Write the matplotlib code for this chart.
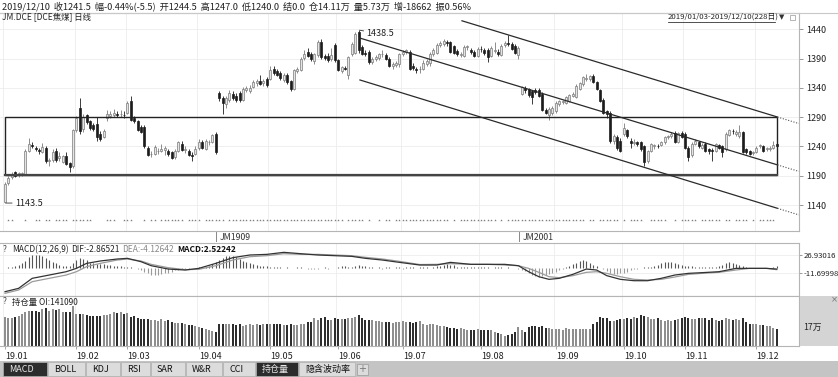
import matplotlib
matplotlib.use('Agg')
import matplotlib.pyplot as plt
from matplotlib.patches import Rectangle

plt.rcParams['font.family'] = ['Noto Sans CJK SC', 'DejaVu Sans']

W, H = 838, 377

# ---------------- data ----------------
opens = [1146,1178,1188,1196,1191,1192,1193,1233,1243,1238,
         1234,1231,1237,1216,1217,1233,1221,1213,1224,1211,
         1206,1268,1306,1270,1293,1283,1276,1278,1262,1256,
         1288,1292,1294,1296,1295,1294,1297,1317,1288,1283,
         1274,1274,1237,1227,1227,1232,1233,1234,1232,1230,
         1222,1233,1245,1234,1233,1226,1227,1237,1248,1236,
         1247,1248,1262,
         1332,1322,1312,1319,1330,1326,1332,1319,1337,1334,
         1342,1349,1352,1348,1355,1356,1373,1368,1365,1354,
         1362,1351,1338,1368,1370,1391,1402,1398,1386,1396,
         1418,1394,1395,1390,1413,1387,1368,1374,1362,1398,
         1400,1436,1410,1400,1402,1385,1390,1391,1397,1396,
         1390,1378,1379,1380,1398,1402,1402,1378,1372,1372,
         1373,1380,1382,1398,1400,1413,1415,1418,1418,1412,
         1403,1396,1395,1410,1405,1402,1395,1407,1404,1405,
         1395,1403,1402,1396,1413,1416,1415,1412,1396,
         1330,1340,1338,1335,1336,1337,1330,1303,1293,1297,
         1300,1312,1316,1314,1318,1327,1325,1338,1347,1356,
         1355,1360,1350,1336,1320,1300,1298,1250,1256,1250,
         1262,1268,1250,1246,1247,1248,1240,1216,1232,1240,
         1241,1242,1247,1256,1258,1263,1248,1263,1262,1238,
         1225,1245,1248,1237,1245,1236,1234,1232,1243,1240,
         1235,1260,1267,1262,1258,1264,1235,1232,1229,1231,
         1240,1240,1236,1235,1238,1244.5]
highs = [1180,1190,1197,1199,1197,1197,1236,1255,1247,1241,
         1237,1246,1241,1220,1236,1237,1230,1226,1230,1214,
         1270,1292,1323,1295,1296,1286,1280,1290,1266,1270,
         1303,1300,1304,1300,1303,1300,1318,1326,1292,1286,
         1277,1276,1240,1232,1242,1238,1245,1240,1235,1233,
         1236,1250,1250,1240,1236,1230,1240,1252,1251,1252,
         1251,1262,1264,
         1335,1326,1326,1336,1334,1331,1334,1342,1344,1345,
         1354,1355,1362,1356,1358,1378,1378,1372,1368,1366,
         1365,1354,1372,1376,1392,1405,1408,1402,1400,1421,
         1423,1398,1399,1408,1416,1390,1378,1378,1395,1418,
         1436,1438.5,1414,1404,1405,1393,1396,1400,1404,1399,
         1392,1385,1386,1400,1405,1406,1404,1382,1376,1377,
         1388,1390,1402,1408,1416,1420,1423,1421,1420,1414,
         1406,1402,1413,1414,1408,1404,1410,1412,1408,1408,
         1412,1418,1406,1415,1420,1431,1418,1415,1412,
         1343,1343,1340,1337,1339,1339,1333,1306,1308,1309,
         1317,1320,1320,1326,1330,1333,1346,1350,1360,1364,
         1362,1363,1352,1338,1322,1302,1300,1262,1260,1254,
         1280,1270,1254,1252,1250,1250,1242,1234,1246,1245,
         1244,1250,1258,1260,1265,1266,1265,1266,1264,1240,
         1247,1252,1250,1246,1247,1238,1237,1246,1245,1242,
         1264,1270,1270,1268,1276,1266,1237,1234,1233,1240,
         1245,1242,1239,1241,1250,1247]
lows = [1143.5,1175,1185,1188,1188,1189,1192,1230,1238,1233,
        1228,1229,1212,1207,1214,1214,1216,1211,1208,1197,
        1204,1265,1262,1265,1278,1268,1266,1250,1250,1254,
        1284,1288,1290,1290,1291,1288,1295,1283,1280,1266,
        1263,1238,1223,1222,1225,1228,1230,1226,1224,1218,
        1219,1231,1232,1229,1224,1216,1225,1234,1235,1234,
        1243,1246,1228,
        1318,1296,1305,1316,1320,1316,1316,1317,1333,1331,
        1340,1344,1345,1344,1342,1354,1362,1360,1354,1350,
        1347,1335,1336,1365,1368,1388,1392,1386,1380,1392,
        1390,1388,1385,1386,1385,1368,1366,1370,1355,1395,
        1398,1400,1396,1394,1380,1380,1386,1388,1392,1387,
        1376,1372,1376,1376,1395,1398,1370,1370,1366,1366,
        1370,1378,1378,1395,1397,1410,1412,1412,1400,1398,
        1394,1392,1393,1405,1398,1393,1393,1402,1396,1384,
        1393,1400,1395,1394,1410,1412,1404,1398,1390,
        1328,1332,1325,1313,1330,1324,1300,1295,1285,1294,
        1297,1309,1313,1312,1316,1324,1322,1336,1344,1352,
        1352,1348,1336,1316,1296,1288,1246,1244,1234,1230,
        1258,1255,1238,1242,1240,1233,1207,1212,1230,1236,
        1237,1240,1245,1252,1255,1246,1246,1254,1235,1215,
        1222,1242,1238,1235,1230,1228,1215,1230,1235,1222,
        1233,1258,1262,1258,1255,1229,1227,1226,1226,1229,
        1237,1231,1233,1233,1236,1240]
closes = [1176,1186,1193,1190,1194,1195,1233,1244,1240,1236,
          1232,1239,1215,1217,1231,1217,1223,1223,1210,1205,
          1268,1289,1266,1290,1281,1271,1270,1257,1253,1266,
          1295,1295,1297,1294,1295,1293,1314,1285,1283,1268,
          1265,1240,1225,1228,1239,1233,1236,1237,1227,1221,
          1233,1247,1234,1236,1226,1224,1235,1248,1238,1249,
          1248,1260,1230,
          1322,1314,1322,1332,1323,1320,1319,1338,1339,1340,
          1350,1351,1346,1352,1345,1370,1365,1362,1357,1362,
          1350,1338,1370,1373,1390,1397,1394,1390,1397,1418,
          1393,1391,1388,1396,1387,1370,1375,1373,1392,1415,
          1432,1405,1398,1398,1385,1390,1392,1397,1398,1389,
          1377,1380,1383,1397,1402,1404,1373,1374,1370,1373,
          1382,1386,1398,1404,1413,1416,1420,1417,1402,1400,
          1397,1398,1410,1411,1401,1395,1407,1406,1400,1393,
          1408,1405,1398,1412,1417,1415,1407,1400,1408,
          1341,1336,1328,1325,1333,1326,1302,1298,1304,1306,
          1314,1318,1318,1324,1328,1330,1344,1348,1358,1357,
          1360,1350,1338,1318,1298,1296,1250,1258,1237,1233,
          1271,1258,1246,1248,1244,1235,1214,1232,1244,1242,
          1240,1248,1256,1258,1262,1248,1263,1257,1237,1222,
          1245,1250,1240,1243,1232,1232,1232,1244,1237,1230,
          1262,1268,1266,1265,1264,1231,1230,1228,1230,1238,
          1242,1233,1236,1238,1242,1241.5]

# open interest, in 万
oi = [23.8,23.5,23.5,23.8,24.9,26.3,27.9,29.1,29.3,29.1,
      27.9,30.7,31.8,29.3,30.4,30.2,30.7,27.9,28.2,28.2,
      33.5,26.6,26.6,26.3,25.7,24.9,25.2,25.2,25.2,25.5,
      25.7,26.6,27.9,27.4,28.5,26.3,27.4,24.1,25.2,23.5,
      22.4,22.4,22.1,21.9,21.6,20.8,22.1,20.8,21.3,19.6,
      19.1,19.4,18.8,18.5,17.4,17.4,16.3,15.8,14.7,13.8,
      13.3,12.7,11.9,18.0,18.5,18.0,18.5,18.0,17.4,18.0,
      16.9,17.4,18.0,17.4,18.0,17.4,18.0,18.5,18.0,18.0,
      18.5,18.3,17.4,17.4,18.0,17.7,17.4,18.3,18.0,19.6,
      19.6,23.0,21.3,23.5,24.4,21.3,21.6,23.0,22.4,22.4,
      22.7,23.0,23.0,24.4,25.7,23.0,21.9,21.3,21.3,20.8,
      20.8,19.6,20.2,19.6,19.1,19.6,19.6,20.8,20.2,19.6,
      19.1,20.2,20.8,18.0,17.4,18.0,18.0,17.4,16.9,16.9,
      16.1,15.2,14.7,14.1,14.7,14.1,13.3,13.3,13.3,13.8,
      13.3,13.3,13.0,13.0,11.9,10.8,10.2,8.6,9.1,10.0,
      11.9,16.1,13.0,11.9,16.1,16.9,16.9,16.1,16.6,14.7,
      14.7,13.8,13.8,13.8,13.3,14.7,13.8,14.1,14.1,14.1,
      14.1,14.1,14.1,18.0,19.6,24.4,23.5,23.0,20.8,20.8,
      21.9,22.4,22.4,23.0,22.4,24.4,23.5,25.7,24.9,24.4,
      22.4,22.4,23.0,21.9,20.8,21.3,20.8,21.6,22.4,23.5,
      24.4,23.5,22.4,22.1,23.0,23.0,23.0,21.6,23.0,21.3,
      20.8,21.3,23.0,22.1,21.6,22.4,21.3,23.0,20.2,18.0,
      18.0,18.0,17.4,17.4,16.9,16.3,15.2,14.109]

# MACD histogram (per bar)
macd_hist = [-1,1,2,4,6,10,14,22,26,27,
             26,24,20,16,12,9,6,4,3,4,
             10,16,20,18,15,10,9,8,8,7,
             6,5,4,3,3,2,2,1,0,-2,
             -4,-8,-12,-15,-16,-15,-14,-12,-10,-8,
             -5,-4,-3,-3,-2,-1,0,1,-1,1,
             4,8,12,16,20,24,25,24,22,18,
             14,11,9,7,5,4,3,3,2,2,
             2,1,-1,1,0,-1,1,2,-1,-2,
             -2,-3,-2,-1,1,-2,-1,-1,2,3,
             3,2,2,4,5,4,3,2,1,-1,
             2,-2,1,2,-1,2,1,-2,2,1,
             2,-1,2,1,2,-1,2,3,4,6,
             7,6,5,2,1,1,1,1,1,1,
             1,1,1,0,1,1,1,0,1,0,
             0,-2,-4,-6,-10,-15,-18,-20,-18,-16,
             -14,-12,-8,-5,-2,1,4,7,10,13,
             15,14,10,6,3,-1,-2,-6,-10,-13,
             -14,-12,-10,-8,-5,-3,-2,-1,1,1,
             2,4,6,9,11,12,11,9,7,5,
             4,3,3,2,2,2,2,1,2,2,
             3,6,9,11,10,8,5,3,1,0,
             0,0,0,0,0,-1,1,2.52242]

# MACD lines (sampled along the bar index)
macd_idx = [0,4,8,13,18,21,24,28,33,36,40,43,48,53,57,62,67,72,77,82,87,92,97,102,
            106,111,116,122,127,131,137,142,147,151,154,157,160,163,167,171,174,177,
            181,185,189,193,197,201,205,210,215,219,224,227]
dif = [-49.6,-42.7,-22.0,-15.2,-8.3,-1.4,8.9,13.8,17.9,19.3,12.4,4.1,-2.8,-4.8,-1.4,
       8.9,20.7,26.2,27.5,31.7,28.9,26.2,24.8,23.4,19.3,15.8,11.0,5.5,5.5,11.0,6.9,
       6.9,6.9,4.1,-8.3,-18.6,-24.1,-22.0,-13.8,-2.8,-4.8,-16.5,-24.1,-26.9,-26.9,
       -22.0,-15.2,-11.7,-10.3,-8.3,-1.4,-1.4,-1.4,-2.87]
dea = [-53.0,-46.1,-28.9,-22.0,-15.2,-8.3,2.1,8.9,15.8,17.9,13.8,6.9,0.0,-4.1,-3.4,
       4.1,15.8,22.7,24.8,28.9,27.5,27.5,26.2,24.8,21.4,17.9,13.1,6.5,6.9,8.3,6.9,
       6.9,5.5,4.1,-1.4,-9.6,-18.6,-20.7,-16.5,-9.6,-8.3,-11.7,-18.6,-24.1,-25.5,
       -24.1,-19.3,-13.8,-11.7,-9.6,-4.8,-1.4,-1.4,-4.13]

month_starts = [0, 21, 36, 57, 78, 98, 117, 140, 162, 182, 200, 221]
month_labels = ['19.01','19.02','19.03','19.04','19.05','19.06',
                '19.07','19.08','19.09','19.10','19.11','19.12']
price_ticks = [1140, 1190, 1240, 1290, 1340, 1390, 1440]
contracts = [('JM1909', 63), ('JM2001', 152)]

# channel lines: (start idx, start price, end idx, end price)
channel_lines = [(134.4, 1454.5, 227.2, 1290.3),
                 (104.4, 1425.0, 227.2, 1208.6),
                 (104.4, 1353.5, 227.2, 1134.5)]
channel_ext_end = 233.5
box = (0, 1191.5, 227, 1290.3)   # x0, y0, x1, y1

marker_runs = [(1,2),(6,6),(9,10),(12,13),(15,18),(20,25),(30,32),(35,37),(41,41),
               (43,44),(46,52),(54,57),(59,64),(66,99),(101,105),(107,107),(110,110),
               (112,113),(115,118),(119,130),(132,132),(134,144),(146,146),(148,170),
               (172,173),(175,180),(182,182),(184,187),(190,194),(197,197),(199,203),
               (205,210),(212,213),(215,218),(220,220),(222,226)]

# ---------------- figure ----------------
fig = plt.figure(figsize=(W/100, H/100), dpi=100)
fig.patch.set_facecolor('white')

def rect(x0, y0, x1, y1):
    return [x0/W, 1-y1/H, (x1-x0)/W, (y1-y0)/H]

XL = (-1.47, 233.53)
GRID = '#ececec'
SP = '#b5b5b5'
n = len(closes)
idx = list(range(n))

ax = fig.add_axes(rect(0, 13, 799, 231))
ax_m = fig.add_axes(rect(0, 243, 799, 296))
ax_o = fig.add_axes(rect(0, 296, 799, 346))

for a in (ax, ax_m, ax_o):
    a.set_xlim(*XL)
    a.spines['left'].set_visible(False)
    for s in ('top', 'right', 'bottom'):
        a.spines[s].set_color(SP)
        a.spines[s].set_linewidth(0.8)
    a.yaxis.tick_right()
    a.tick_params(axis='y', labelsize=6.5, length=3, width=0.6, color='#888888',
                  labelcolor='#222222', pad=2)
    for m in month_starts:
        a.axvline(m - 0.5, color=GRID, lw=0.6, zorder=0)

# ---- price panel ----
ax.set_ylim(1095.8, 1467.8)
ax.set_yticks(price_ticks)
ax.set_xticks([])
for p in price_ticks:
    ax.axhline(p, color=GRID, lw=0.6, zorder=0)

up_face, up_edge, dn_col = '#e4e4e4', '#7a7a7a', '#1c1c1c'
for i in idx:
    o, h, l, c = opens[i], highs[i], lows[i], closes[i]
    up = c >= o
    col = up_edge if up else dn_col
    ax.vlines(i, l, h, color=col, lw=0.6, zorder=2)
    body_lo = min(o, c)
    body_h = max(abs(c - o), 0.8)
    ax.bar(i, body_h, bottom=body_lo, width=0.64,
           color=(up_face if up else dn_col), edgecolor=col, linewidth=0.5, zorder=3)

# rectangle box
bx0, by0, bx1, by1 = box
ax.add_patch(Rectangle((bx0, by0), bx1 - bx0, by1 - by0, fill=False,
                       edgecolor='#222222', lw=1.0, zorder=4))
ax.plot([bx0, bx1], [by0, by0], color='#444444', lw=1.6, zorder=4)

# channel lines
for (x0, y0, x1, y1) in channel_lines:
    ax.plot([x0, x1], [y0, y1], color='#2a2a2a', lw=0.9, zorder=4)
    slope = (y1 - y0) / (x1 - x0)
    ax.plot([x1, channel_ext_end], [y1, y1 + slope * (channel_ext_end - x1)],
            color='#555555', lw=0.8, ls=(0, (1, 1.5)), zorder=4, clip_on=False)

# high/low annotations
hi_i = highs.index(max(highs))
lo_i = lows.index(min(lows))
ax.annotate(f'{max(highs)}', xy=(hi_i + 0.3, max(highs)), xytext=(hi_i + 2.3, 1432),
            fontsize=6.5, color='#222222', va='center', ha='left',
            arrowprops=dict(arrowstyle='-', lw=0.6, color='#333333', shrinkA=0, shrinkB=0))
ax.annotate(f'{min(lows)}', xy=(lo_i + 0.3, min(lows)), xytext=(lo_i + 2.9, min(lows)),
            fontsize=6.5, color='#222222', va='center', ha='left',
            arrowprops=dict(arrowstyle='-', lw=0.6, color='#333333', shrinkA=0, shrinkB=0))

# marker row
mk = []
for a0, a1 in marker_runs:
    mk.extend(range(a0, a1 + 1))
trans = ax.get_xaxis_transform()
ax.scatter(mk, [0.05] * len(mk), transform=trans, marker='*', s=3.5,
           color='#7a7a7a', linewidths=0, zorder=3)

# contract labels
for name, ci in contracts:
    ax.plot([ci - 0.8, ci - 0.8], [0, -0.045], transform=trans, color='#888888',
            lw=0.7, clip_on=False)
    ax.text(ci + 0.2, -0.03, name, transform=trans, fontsize=6.3, color='#333333',
            va='center', ha='left')

# ---- MACD panel ----
ax_m.set_ylim(-58.5, 51.0)
ax_m.set_xticks([])
ax_m.set_yticks([26.93016, -11.69998])
ax_m.set_yticklabels(['26.93016', '-11.69998'])
ax_m.tick_params(axis='y', labelsize=5.6, pad=1, length=2.5)
for v in (26.93016, -11.69998):
    ax_m.axhline(v, color=GRID, lw=0.6, zorder=0)
hist_cols = ['#555555' if v >= 0 else '#9a9a9a' for v in macd_hist]
ax_m.vlines(idx, 0, macd_hist, colors=hist_cols, lw=0.8, zorder=2)
ax_m.plot(macd_idx, dea, color='#9b9b9b', lw=0.9, zorder=3)
ax_m.plot(macd_idx, dif, color='#333333', lw=0.9, zorder=4)

# ---- OI panel ----
ax_o.set_ylim(0, 41.5)
ax_o.set_yticks([])
oi_cols = ['#8e8e8e' if closes[i] >= opens[i] else '#2e2e2e' for i in idx]
ax_o.bar(idx, oi, width=0.6, color=oi_cols, linewidth=0, zorder=2)
ax_o.set_xticks(month_starts)
ax_o.set_xticklabels(month_labels)
ax_o.tick_params(axis='x', labelsize=6.5, length=2, width=0.6, color='#999999',
                 labelcolor='#222222', pad=2)
for lbl in ax_o.get_xticklabels():
    lbl.set_ha('left')

# ---------------- overlay (text, tabs) ----------------
ov = fig.add_axes([0, 0, 1, 1], zorder=10)
ov.set_xlim(0, W)
ov.set_ylim(H, 0)
ov.axis('off')
ov.patch.set_alpha(0)

ov.plot([0, W], [13, 13], color='#c8c8c8', lw=0.8)
ov.text(2, 6, '2019/12/10  收1241.5  幅-0.44%(-5.5)  开1244.5  高1247.0  低1240.0  结0.0  '
        '仓14.11万  量5.73万  增-18662  振0.56%', fontsize=6.6, color='#222222',
        va='center', ha='left')
ov.text(2, 18, 'JM.DCE [DCE焦煤] 日线', fontsize=6.0, color='#222222', va='center', ha='left')
ov.text(668, 17, '2019/01/03-2019/12/10(228日)', fontsize=5.6, color='#222222',
        va='center', ha='left')
ov.plot([668, 775], [21.5, 21.5], color='#333333', lw=0.6)
ov.text(779, 17, '▼', fontsize=5.0, color='#333333', va='center', ha='left',
        family='DejaVu Sans')
ov.add_patch(Rectangle((790, 14.5), 5, 5, fill=False, edgecolor='#999999', lw=0.5))

# MACD header
ov.text(3, 250, '?', fontsize=6.0, color='#444444', va='center', ha='left')
ov.text(12, 250, 'MACD(12,26,9)', fontsize=6.0, color='#222222', va='center', ha='left')
ov.text(71, 250, 'DIF:-2.86521', fontsize=6.0, color='#222222', va='center', ha='left')
ov.text(122, 250, 'DEA:-4.12642', fontsize=6.0, color='#888888', va='center', ha='left')
ov.text(177, 250, 'MACD:2.52242', fontsize=6.0, color='#111111', va='center', ha='left',
        fontweight='bold')
# OI header
ov.text(3, 302, '?', fontsize=6.0, color='#444444', va='center', ha='left')
ov.text(12, 302, '持仓量 OI:141090', fontsize=6.0, color='#222222', va='center', ha='left')

# OI right box
ov.add_patch(Rectangle((800, 296), 38, 50, facecolor='#d4d4d4', edgecolor='none'))
ov.text(803, 327, '17万', fontsize=6.3, color='#222222', va='center', ha='left')
ov.text(831, 300, '×', fontsize=6, color='#777777', va='center', ha='left',
        family='DejaVu Sans')

# tab bar
ov.add_patch(Rectangle((0, 361), W, 16, facecolor='#c4c4c4', edgecolor='none'))
tabs = [('MACD', 3, 47, True), ('BOLL', 48, 85, False), ('KDJ', 86, 120, False),
        ('RSI', 121, 150, False), ('SAR', 151, 185, False), ('W&R', 186, 222, False),
        ('CCI', 223, 255, False), ('持仓量', 256, 298, True),
        ('隐含波动率', 299, 355, False)]
for name, x0, x1, sel in tabs:
    ov.add_patch(Rectangle((x0, 362), x1 - x0, 14,
                           facecolor=('#2c2c2c' if sel else '#dcdcdc'),
                           edgecolor='#b0b0b0', lw=0.5))
    ov.text(x0 + 6, 369, name, fontsize=6.5, va='center', ha='left',
            color=('#e8e8e8' if sel else '#111111'))
ov.add_patch(Rectangle((357, 363.5), 11, 11, facecolor='#dcdcdc', edgecolor='#999999', lw=0.5))
ov.text(362.5, 369, '+', fontsize=7, va='center', ha='center', color='#777777',
        family='DejaVu Sans')

fig.savefig('out.png', dpi=100, facecolor='white')
